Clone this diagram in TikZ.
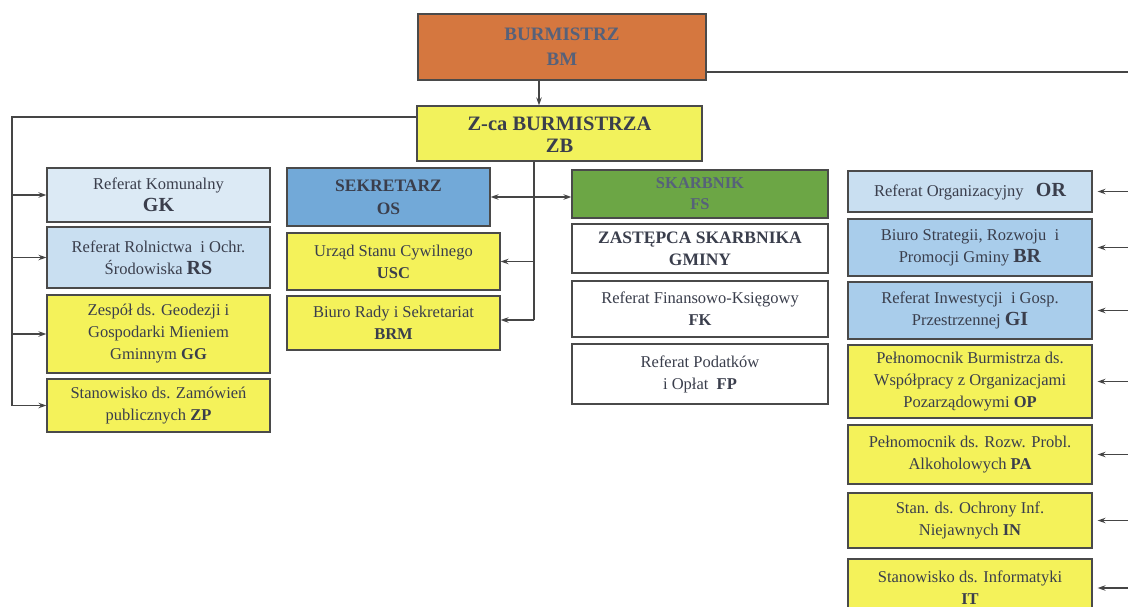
\documentclass[tikz,border=0pt]{standalone}
\usepackage{fontspec}
\setmainfont{Liberation Serif}
\usetikzlibrary{arrows.meta,calc}
\definecolor{txt}{HTML}{3A3E4C}
\definecolor{txtlight}{HTML}{56617A}
\definecolor{bord}{HTML}{4A4A4A}
\definecolor{orangeBM}{HTML}{D5773F}
\definecolor{yelZB}{HTML}{F2F25C}
\definecolor{yel}{HTML}{F4F25A}
\definecolor{paleblue}{HTML}{DCEAF5}
\definecolor{lightblue}{HTML}{C9DFF1}
\definecolor{midblue}{HTML}{A9CDEB}
\definecolor{osblue}{HTML}{72A9D8}
\definecolor{fsgreen}{HTML}{6CA645}
\definecolor{linec}{HTML}{454545}
\newcommand{\ab}[1]{{\fontsize{20}{22}\selectfont\bfseries #1}}
\newcommand{\abn}[1]{{\bfseries #1}}
\begin{document}
\begin{tikzpicture}[x=1pt,y=-1pt,
  orgbox/.style={draw=bord,line width=1.2pt,inner sep=0pt,align=center,text=txt,
    font=\fontsize{16.5}{22}\selectfont},
  conn/.style={draw=linec,line width=1.4pt},
  arr/.style={conn,-{Stealth[length=8pt,width=5.5pt]}},
  arrtwo/.style={conn,{Stealth[length=8pt,width=5.5pt]}-{Stealth[length=8pt,width=5.5pt]}}]
\clip (0,0) rectangle (1128,607);
\fill[white] (0,0) rectangle (1128,607);
% top
\node[orgbox,fill=orangeBM,minimum width=288pt,minimum height=66pt,text=txtlight,
  font=\fontsize{19}{25}\selectfont\bfseries] (BM) at (562,47) {BURMISTRZ\\BM};
\node[orgbox,fill=yelZB,minimum width=285pt,minimum height=55pt,
  font=\fontsize{20.5}{23}\selectfont\bfseries] (ZB) at (559.5,133.5)
  {\raisebox{-3pt}[\height][\depth]{\begin{tabular}{@{}c@{}}Z-ca BURMISTRZA\\[-1pt]ZB\end{tabular}}};
% left column
\node[orgbox,fill=paleblue,minimum width=223pt,minimum height=54pt] (GK) at (158.5,195) {Referat Komunalny\\\ab{GK}};
\node[orgbox,fill=lightblue,minimum width=223pt,minimum height=61pt] (RS) at (158.5,257.5) {Referat Rolnictwa\ \ i Ochr.\\Środowiska \ab{RS}};
\node[orgbox,fill=yel,minimum width=223pt,minimum height=78pt] (GG) at (158.5,334) {Zespół ds. Geodezji i\\Gospodarki Mieniem\\Gminnym \abn{GG}};
\node[orgbox,fill=yel,minimum width=223pt,minimum height=53pt] (ZP) at (158.5,405.5) {Stanowisko ds. Zamówień\\publicznych \abn{ZP}};
% second column
\node[orgbox,fill=osblue,minimum width=203pt,minimum height=58pt,
  font=\fontsize{17.5}{23}\selectfont\bfseries] (OS) at (388.5,197) {SEKRETARZ\\OS};
\node[orgbox,fill=yel,minimum width=213pt,minimum height=57pt] (USC) at (393.5,261.5) {Urząd Stanu Cywilnego\\\abn{USC}};
\node[orgbox,fill=yel,minimum width=213pt,minimum height=54pt] (BRM) at (393.5,323) {Biuro Rady i Sekretariat\\\abn{BRM}};
% third column
\node[orgbox,fill=fsgreen,minimum width=256pt,minimum height=48pt,text=txtlight,
  font=\fontsize{16.5}{21}\selectfont\bfseries] (FS) at (700,194) {SKARBNIK\\FS};
\node[orgbox,fill=white,minimum width=256pt,minimum height=49pt,
  font=\fontsize{17.5}{22}\selectfont\bfseries] (ZS) at (700,248.5) {ZASTĘPCA SKARBNIKA\\GMINY};
\node[orgbox,fill=white,minimum width=256pt,minimum height=56pt] (FK) at (700,309) {Referat Finansowo-Księgowy\\\abn{FK}};
\node[orgbox,fill=white,minimum width=256pt,minimum height=60pt] (FP) at (700,374) {Referat Podatków\\i Opłat\ \ \abn{FP}};
% right column
\node[orgbox,fill=lightblue,minimum width=244pt,minimum height=41pt] (OR) at (970,191.5) {Referat Organizacyjny\ \ \ \ab{OR}};
\node[orgbox,fill=midblue,minimum width=244pt,minimum height=57pt] (BR) at (970,247.5) {Biuro Strategii, Rozwoju\ \ i\\Promocji Gminy \ab{BR}};
\node[orgbox,fill=midblue,minimum width=244pt,minimum height=57pt] (GI) at (970,310.5) {Referat Inwestycji\ \ i Gosp.\\Przestrzennej \ab{GI}};
\node[orgbox,fill=yel,minimum width=244pt,minimum height=73pt] (OP) at (970,381.5) {Pełnomocnik Burmistrza ds.\\Współpracy z Organizacjami\\Pozarządowymi \abn{OP}};
\node[orgbox,fill=yel,minimum width=244pt,minimum height=59pt] (PA) at (970,454.5) {Pełnomocnik ds. Rozw. Probl.\\Alkoholowych \abn{PA}};
\node[orgbox,fill=yel,minimum width=244pt,minimum height=55pt] (IN) at (970,520.5) {Stan. ds. Ochrony Inf.\\Niejawnych \abn{IN}};
\node[orgbox,fill=yel,minimum width=244pt,minimum height=58pt] (IT) at (970,588) {Stanowisko ds. Informatyki\\\abn{IT}};
% coordinates
\coordinate (bmR) at (1128,72);
\coordinate (L) at (12,117);
\coordinate (V) at (534,320);
\coordinate (edge) at (1128,0);
% connectors
\draw[conn] (BM.east |- bmR) -- (bmR);
\draw[arr] ([xshift=-23pt]BM.south) -- ([xshift=-23pt]BM.south |- ZB.north);
\draw[conn] (ZB.west |- L) -- (L) -- (L |- ZP.west);
\draw[arr] (L |- GK.west) -- (GK.west);
\draw[arr] (L |- RS.west) -- (RS.west);
\draw[arr] (L |- GG.west) -- (GG.west);
\draw[arr] (L |- ZP.west) -- (ZP.west);
\draw[conn] (ZB.south -| V) -- (V);
\draw[arr] (V |- USC.east) -- (USC.east);
\draw[arr] (V) -- (BRM.east |- V);
\draw[arrtwo] (OS.east) -- (OS.east -| FS.west);
\foreach \n in {OR,BR,GI,OP,PA,IN,IT}{
  \draw[arr] (\n.east -| edge) -- ([xshift=5pt]\n.east);
}
\end{tikzpicture}
\end{document}
